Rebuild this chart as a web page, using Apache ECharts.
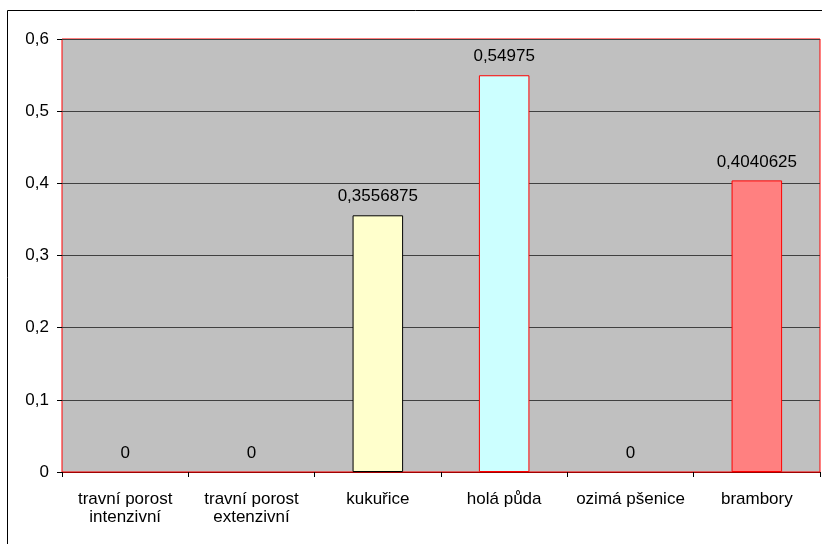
<!DOCTYPE html>
<html>
<head>
<meta charset="utf-8">
<style>
  html, body { margin: 0; padding: 0; background: #ffffff; }
  #chart { width: 822px; height: 544px; }
</style>
<script src="https://cdn.jsdelivr.net/npm/echarts@6/dist/echarts.min.js"></script>
</head>
<body>
<div id="chart"></div>
<script>
// Land cover categories and their values
const categories = [
  'travní porost\nintenzivní',
  'travní porost\nextenzivní',
  'kukuřice',
  'holá půda',
  'ozimá pšenice',
  'brambory'
];
const values = [0, 0, 0.3556875, 0.54975, 0, 0.4040625];
const barFills = ['#FFFFCC', '#FFFFCC', '#FFFFCC', '#CCFFFF', '#FFFFCC', '#FF8080'];
const barBorders = ['#000000', '#000000', '#000000', '#FF0000', '#000000', '#FF0000'];
const yTicks = { min: 0, max: 0.6, step: 0.1 };

const toComma = v => String(v).replace('.', ',');
const FONT = 'Liberation Sans, Arial, sans-serif';
const FS = 17;

const chart = echarts.init(document.getElementById('chart'), null, { renderer: 'canvas' });

chart.setOption({
  animation: false,
  backgroundColor: '#ffffff',
  textStyle: { fontFamily: FONT },
  graphic: [{
    type: 'rect',
    silent: true,
    z: -10,
    shape: { x: 7.5, y: 10.5, width: 830, height: 560 },
    style: { fill: 'none', stroke: '#000000', lineWidth: 1 }
  }],
  grid: {
    left: 62, right: 2, top: 39, bottom: 72,
    show: true,
    backgroundColor: '#C0C0C0',
    borderColor: '#FF0000',
    borderWidth: 1
  },
  xAxis: {
    type: 'category',
    data: categories,
    boundaryGap: true,
    axisLine: { show: true, lineStyle: { color: '#A00000', width: 1 } },
    axisTick: { show: true, length: 5, alignWithLabel: false, lineStyle: { color: '#000000' } },
    axisLabel: {
      interval: 0,
      color: '#000000',
      fontSize: FS,
      lineHeight: 18,
      margin: 18,
      fontFamily: FONT
    },
    splitLine: { show: false }
  },
  yAxis: {
    type: 'value',
    min: yTicks.min,
    max: yTicks.max,
    interval: yTicks.step,
    axisLine: { show: false },
    axisTick: { show: true, length: 5, lineStyle: { color: '#000000' } },
    axisLabel: {
      color: '#000000',
      fontSize: FS,
      margin: 13,
      fontFamily: FONT,
      formatter: v => toComma(Math.round(v * 10) / 10)
    },
    splitLine: { show: true, lineStyle: { color: '#404040', width: 1 } }
  },
  series: [{
    type: 'bar',
    barWidth: '40%',
    data: values.map((v, i) => ({
      value: v,
      itemStyle: {
        color: barFills[i],
        borderColor: barBorders[i],
        borderWidth: v === 0 ? 0 : 1
      }
    })),
    label: {
      show: true,
      position: 'top',
      distance: 10,
      color: '#000000',
      fontSize: FS,
      fontFamily: FONT,
      formatter: p => toComma(p.value)
    }
  }]
});
</script>
</body>
</html>
